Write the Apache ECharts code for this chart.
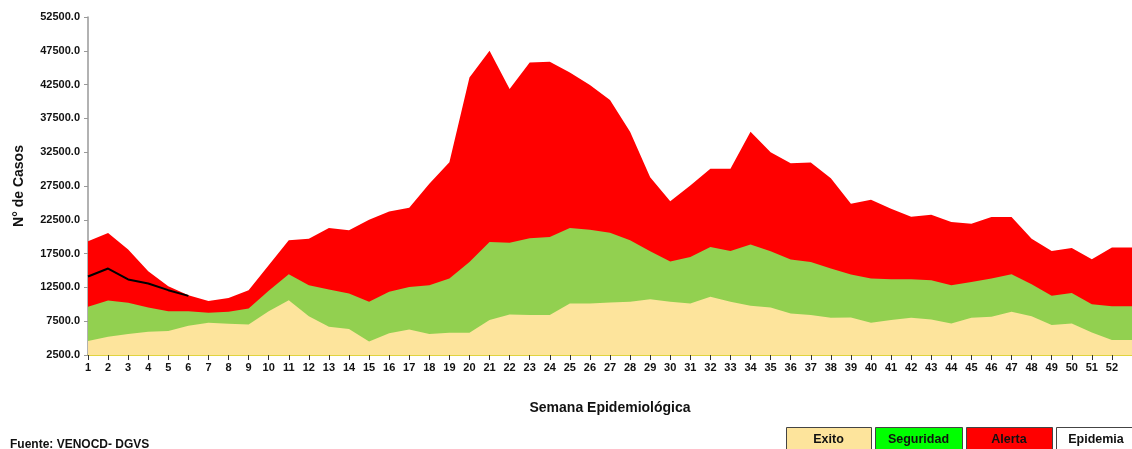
<!DOCTYPE html>
<html>
<head>
<meta charset="utf-8">
<script src="https://cdn.jsdelivr.net/npm/echarts@6/dist/echarts.min.js"></script>
<style>
  html, body { margin: 0; padding: 0; background: #fff; overflow: hidden; }
  #chart { width: 1135px; height: 449px; }
</style>
</head>
<body>
<div id="chart"></div>
<script>
// semanas 1..52, plus the edge point the area runs out to
const weeks = ['1','2','3','4','5','6','7','8','9','10','11','12','13','14','15','16','17','18','19','20',
  '21','22','23','24','25','26','27','28','29','30','31','32','33','34','35','36','37','38','39','40',
  '41','42','43','44','45','46','47','48','49','50','51','52',''];

// upper limits of each zone (channel levels)
const exito = [4570, 5200, 5600, 5940, 6040, 6820, 7270, 7120, 7020, 8990,
  10610, 8250, 6680, 6340, 4500, 5700, 6290, 5600, 5790, 5790,
  7660, 8500, 8400, 8400, 10130, 10130, 10270, 10360, 10760, 10360,
  10130, 11100, 10360, 9770, 9540, 8650, 8400, 8000, 8050, 7270,
  7660, 8000, 7760, 7170, 8000, 8150, 8890, 8250, 6930, 7170,
  5840, 4710, 4710];
const seguridad = [9630, 10570, 10220, 9540, 8990, 8990, 8740, 8890, 9390, 11990,
  14450, 12830, 12190, 11600, 10360, 11840, 12570, 12830, 13810, 16270,
  19220, 19120, 19760, 19950, 21280, 21040, 20600, 19460, 17840, 16340,
  17000, 18480, 17880, 18830, 17840, 16610, 16270, 15290, 14400, 13810,
  13710, 13710, 13560, 12830, 13310, 13810, 14450, 12970, 11250, 11690,
  10020, 9730, 9730];
const alerta = [19320, 20540, 18090, 14890, 12680, 11350, 10470, 10950, 12090, 15780,
  19460, 19710, 21280, 20940, 22510, 23740, 24280, 27820, 31010, 43550,
  47490, 41840, 45760, 45870, 44290, 42430, 40210, 35540, 28800, 25260,
  27580, 30040, 30040, 35540, 32490, 30870, 30970, 28650, 24870, 25470,
  24140, 22950, 23250, 22160, 21920, 22900, 22900, 19710, 17880, 18330,
  16660, 18390, 18390];
// casos del año en curso
const casos = [14110, 15290, 13670, 13080, 12090, 11250];

const yTicks = { min: 2500, max: 52500, step: 5000 };

const FONT = 'Liberation Sans, Arial, sans-serif';

function zone(name, data, color) {
  return {
    name, type: 'line', data,
    symbol: 'none', smooth: false, silent: true,
    lineStyle: { width: 0 },
    areaStyle: { color, opacity: 1 }
  };
}

const legendItems = [
  { text: 'Exito', fill: '#fde49c', x: 786, w: 85 },
  { text: 'Seguridad', fill: '#00ff00', x: 875, w: 87 },
  { text: 'Alerta', fill: '#ff0000', x: 966, w: 86 },
  { text: 'Epidemia', fill: '#ffffff', x: 1056, w: 80 }
];

const graphics = [];
legendItems.forEach(it => {
  graphics.push({
    type: 'rect', left: it.x, top: 427,
    shape: { width: it.w, height: 26 },
    style: { fill: it.fill, stroke: '#444', lineWidth: 1 }
  });
  graphics.push({
    type: 'text', x: it.x + it.w / 2, y: 440,
    style: { text: it.text, fill: '#111', font: 'bold 12.5px ' + FONT, textAlign: 'center', textVerticalAlign: 'middle' }
  });
});
graphics.push({
  type: 'text', left: 10, top: 439,
  style: { text: 'Fuente: VENOCD- DGVS', fill: '#111', font: 'bold 12px ' + FONT }
});

const chart = echarts.init(document.getElementById('chart'));
chart.setOption({
  animation: false,
  backgroundColor: '#fff',
  grid: { left: 88, right: 0, top: 17, bottom: 94, containLabel: false },
  xAxis: {
    type: 'category', data: weeks, boundaryGap: false,
    name: 'Semana Epidemiológica', nameLocation: 'middle', nameGap: 46,
    nameTextStyle: { fontFamily: FONT, fontWeight: 'bold', fontSize: 14, color: '#111' },
    axisLine: { lineStyle: { color: '#d8c600', width: 1.5 } },
    axisTick: { alignWithLabel: true, length: 5, lineStyle: { color: '#333' },
      interval: (i) => i < 52 },
    axisLabel: { interval: 0, fontFamily: FONT, fontWeight: 'bold', fontSize: 11, color: '#111', margin: 7 },
    splitLine: { show: false }
  },
  yAxis: {
    type: 'value', min: yTicks.min, max: yTicks.max, interval: yTicks.step,
    name: 'N° de Casos', nameLocation: 'middle', nameGap: 62, nameRotate: 90,
    nameTextStyle: { fontFamily: FONT, fontWeight: 'bold', fontSize: 14, color: '#111' },
    axisLine: { show: true, lineStyle: { color: '#999', width: 1.5 } },
    axisTick: { show: true, length: 4, lineStyle: { color: '#999' } },
    axisLabel: { formatter: v => v.toFixed(1), fontFamily: FONT, fontWeight: 'bold', fontSize: 11, color: '#111', margin: 8 },
    splitLine: { show: false }
  },
  series: [
    zone('Alerta', alerta, '#ff0000'),
    zone('Seguridad', seguridad, '#92d050'),
    zone('Exito', exito, '#fde49c'),
    {
      name: 'Casos', type: 'line', data: casos, symbol: 'none', silent: true,
      lineStyle: { color: '#000', width: 2 }, z: 5
    }
  ],
  graphic: graphics
});
</script>
</body>
</html>
